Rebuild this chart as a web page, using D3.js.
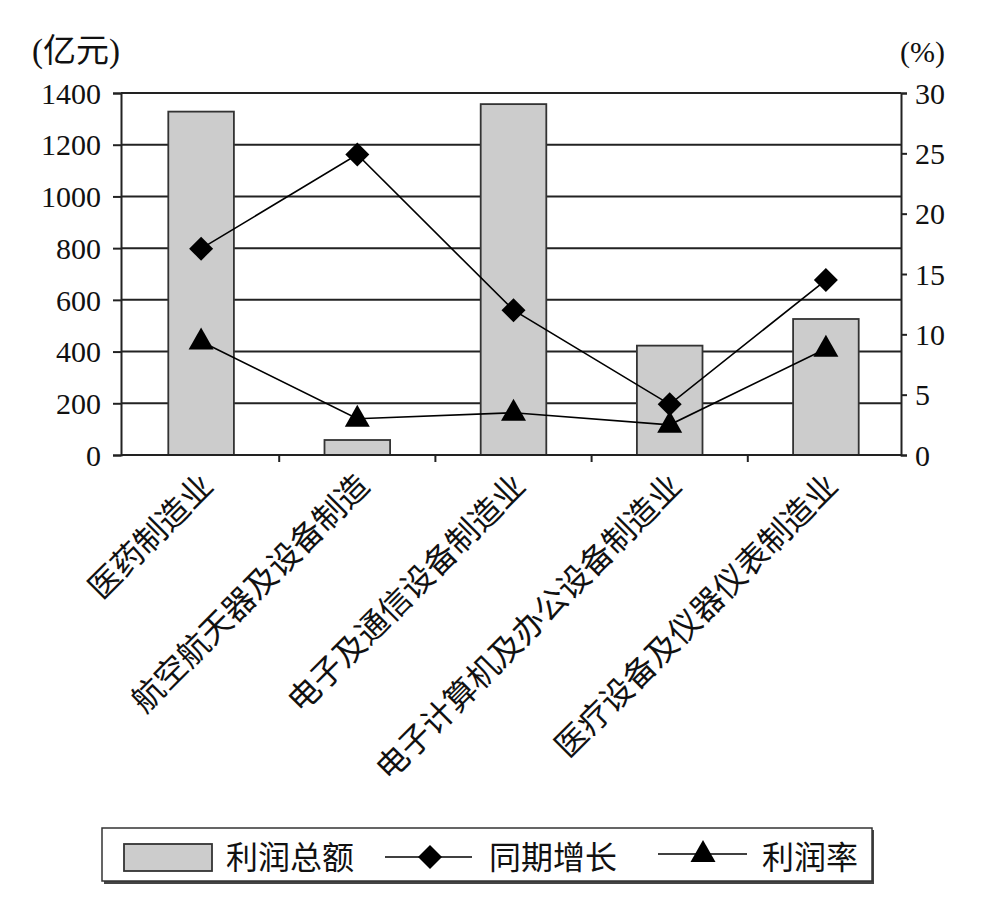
<!DOCTYPE html>
<html>
<head>
<meta charset="utf-8">
<script src="https://cdn.jsdelivr.net/npm/d3@7"></script>
<style>
  html, body { margin: 0; padding: 0; background: #fff; }
  svg { display: block; }
</style>
</head>
<body>
<svg id="chart" width="991" height="915"></svg>
<script>
// ---- data ----
const categories = ["医药制造业", "航空航天器及设备制造", "电子及通信设备制造业", "电子计算机及办公设备制造业", "医疗设备及仪器仪表制造业"];
const profitTotal = [1328, 58, 1357, 423, 526];      // 利润总额 (亿元)
const yoyGrowth   = [17.1, 24.9, 12.0, 4.2, 14.5];   // 同期增长 (%)
const profitRate  = [9.4, 3.0, 3.5, 2.5, 8.8];       // 利润率 (%)
const leftTicks  = [0, 200, 400, 600, 800, 1000, 1200, 1400];
const rightTicks = [0, 5, 10, 15, 20, 25, 30];
const seriesNames = ["利润总额", "同期增长", "利润率"];
const leftUnit = "(亿元)";
const rightUnit = "(%)";

// ---- layout ----
const svg = d3.select("#chart");
const axisLeftX = 121, axisRightX = 901, plotTop = 93, plotBottom = 455;
const serif = '"Liberation Serif", "Times New Roman", serif';
const cjk = '"Noto Sans CJK SC", "Noto Sans", sans-serif';

const x = d3.scaleBand().domain(categories).range([123, 904]).paddingInner(0).paddingOuter(0);
const yL = d3.scaleLinear().domain([0, 1400]).range([plotBottom, plotTop]);
const yR = d3.scaleLinear().domain([0, 30]).range([plotBottom, plotTop]);

// gridlines
svg.append("g").selectAll("line").data(leftTicks).join("line")
  .attr("x1", axisLeftX).attr("x2", axisRightX)
  .attr("y1", d => yL(d)).attr("y2", d => yL(d))
  .attr("stroke", "#222").attr("stroke-width", 2);

// bars
const barW = x.bandwidth() * 0.42;
svg.append("g").selectAll("rect").data(profitTotal).join("rect")
  .attr("x", (d, i) => x(categories[i]) + x.bandwidth() / 2 - barW / 2)
  .attr("y", d => yL(d))
  .attr("width", barW)
  .attr("height", d => yL(0) - yL(d))
  .attr("fill", "#cccccc").attr("stroke", "#333").attr("stroke-width", 1.8);

// left axis
const gL = svg.append("g").attr("transform", `translate(${axisLeftX},0)`)
  .call(d3.axisLeft(yL).tickValues(leftTicks).tickSize(8).tickPadding(12).tickFormat(d3.format("d")));
gL.attr("font-family", null).attr("font-size", null);
gL.select(".domain").attr("stroke", "#222").attr("stroke-width", 2);
gL.selectAll(".tick line").attr("stroke", "#222").attr("stroke-width", 2);
gL.selectAll(".tick text").style("font-family", serif).style("font-size", "30px").attr("fill", "#111").attr("dy", "0.34em");

// right axis
const gR = svg.append("g").attr("transform", `translate(${axisRightX},0)`)
  .call(d3.axisRight(yR).tickValues(rightTicks).tickSize(6).tickPadding(8).tickFormat(d3.format("d")));
gR.attr("font-family", null).attr("font-size", null);
gR.select(".domain").attr("stroke", "#222").attr("stroke-width", 2);
gR.selectAll(".tick line").attr("stroke", "#222").attr("stroke-width", 2);
gR.selectAll(".tick text").style("font-family", serif).style("font-size", "30px").attr("fill", "#111").attr("dy", "0.34em");

// bottom axis with ticks at category boundaries
const gB = svg.append("g").attr("transform", `translate(0,${plotBottom})`);
gB.append("line").attr("x1", axisLeftX).attr("x2", axisRightX).attr("y1", 0).attr("y2", 0)
  .attr("stroke", "#222").attr("stroke-width", 2);
const boundaries = categories.slice(1).map(c => x(c));
gB.selectAll("line.tk").data(boundaries).join("line").attr("class", "tk")
  .attr("x1", d => d).attr("x2", d => d).attr("y1", 0).attr("y2", 7)
  .attr("stroke", "#222").attr("stroke-width", 2);

// category labels
gB.selectAll("text.cat").data(categories).join("text").attr("class", "cat")
  .attr("transform", d => `translate(${x(d) + x.bandwidth() / 2 + 6},${25}) rotate(-45)`)
  .attr("text-anchor", "end").attr("dy", "0.35em")
  .style("font-family", cjk).style("font-size", "32px").attr("fill", "#111")
  .text(d => d);

// symbols
const diamondPath = "M0,-12L12,0L0,12L-12,0Z";
const trianglePath = "M0,-14L12.5,8L-12.5,8Z";
const cx = i => x(categories[i]) + x.bandwidth() / 2;

const line = d3.line().x((d, i) => cx(i)).y(d => yR(d));
svg.append("path").datum(yoyGrowth).attr("d", line).attr("fill", "none").attr("stroke", "#000").attr("stroke-width", 1.6);
svg.append("path").datum(profitRate).attr("d", line).attr("fill", "none").attr("stroke", "#000").attr("stroke-width", 1.6);

svg.append("g").selectAll("path").data(yoyGrowth).join("path")
  .attr("transform", (d, i) => `translate(${cx(i)},${yR(d)})`).attr("d", diamondPath).attr("fill", "#000");
svg.append("g").selectAll("path").data(profitRate).join("path")
  .attr("transform", (d, i) => `translate(${cx(i)},${yR(d)})`).attr("d", trianglePath).attr("fill", "#000");

// unit labels
svg.append("text").attr("x", 32).attr("y", 62).style("font-family", serif + ", " + cjk).style("font-size", "33px").attr("fill", "#111").text(leftUnit);
svg.append("text").attr("x", 900).attr("y", 62).style("font-family", serif).style("font-size", "30px").attr("fill", "#111").text(rightUnit);

// legend
const lg = svg.append("g");
lg.append("rect").attr("x", 104).attr("y", 830).attr("width", 770).attr("height", 54).attr("fill", "#444");
lg.append("rect").attr("x", 102).attr("y", 828).attr("width", 770).attr("height", 53)
  .attr("fill", "#fff").attr("stroke", "#333").attr("stroke-width", 1.5);
const ly = 857;
lg.append("rect").attr("x", 124).attr("y", 844).attr("width", 88).attr("height", 27)
  .attr("fill", "#cccccc").attr("stroke", "#333").attr("stroke-width", 1.8);
const legendFont = "32px";
lg.append("text").attr("x", 226).attr("y", ly).attr("dy", "0.36em").style("font-family", cjk).style("font-size", legendFont).attr("fill", "#111").text(seriesNames[0]);
lg.append("line").attr("x1", 385).attr("x2", 472).attr("y1", ly).attr("y2", ly).attr("stroke", "#000").attr("stroke-width", 1.6);
lg.append("path").attr("transform", `translate(430,${ly})`).attr("d", diamondPath).attr("fill", "#000");
lg.append("text").attr("x", 489).attr("y", ly).attr("dy", "0.36em").style("font-family", cjk).style("font-size", legendFont).attr("fill", "#111").text(seriesNames[1]);
lg.append("line").attr("x1", 658).attr("x2", 747).attr("y1", ly - 3).attr("y2", ly - 3).attr("stroke", "#000").attr("stroke-width", 1.6);
lg.append("path").attr("transform", `translate(703,${ly - 3})`).attr("d", trianglePath).attr("fill", "#000");
lg.append("text").attr("x", 762).attr("y", ly).attr("dy", "0.36em").style("font-family", cjk).style("font-size", legendFont).attr("fill", "#111").text(seriesNames[2]);
</script>
</body>
</html>
